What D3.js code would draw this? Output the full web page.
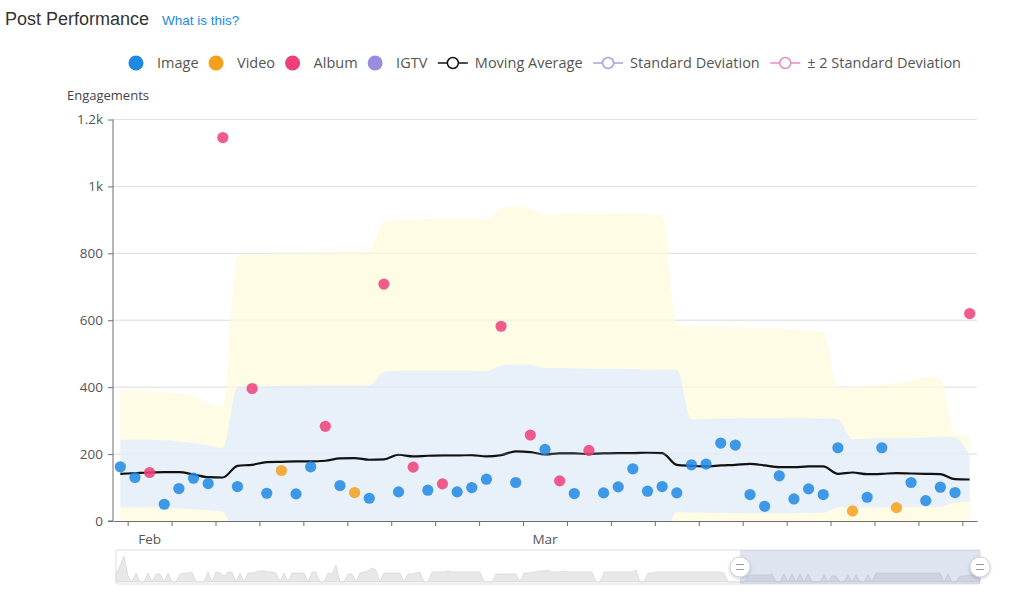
<!DOCTYPE html>
<html><head><meta charset="utf-8">
<script src="https://cdn.jsdelivr.net/npm/d3@7/dist/d3.min.js"></script>
<style>body{margin:0;background:#fff;}svg{display:block;}</style>
</head><body>
<svg id="chart" width="1024" height="615"></svg>
<script>
// ---------------- DATA ----------------
const postTypes = ["Image","Image","Album","Image","Image","Image","Image","Album","Image","Album",
  "Image","Video","Image","Image","Album","Image","Video","Image","Album","Image",
  "Album","Image","Album","Image","Image","Image","Album","Image","Album","Image",
  "Album","Image","Album","Image","Image","Image","Image","Image","Image","Image",
  "Image","Image","Image","Image","Image","Image","Image","Image","Image","Image",
  "Video","Image","Image","Video","Image","Image","Image","Image","Album"];
const engagements = [162,130,145,50,97,128,112,1146,103,396,
  83,151,81,162,283,106,85,68,708,87,
  161,92,111,87,100,125,582,115,257,214,
  120,82,211,84,102,156,89,103,84,168,
  170,233,227,79,44,135,66,96,79,219,
  30,71,219,40,115,61,101,85,620];
const movingAverage = [141,143,145,146,146,139,131,130,165,168,
  176,177,178,178,180,187,188,183,184,198,
  193,195,196,196,197,193,197,208,206,199,
  202,202,200,202,203,203,204,203,168,165,
  163,166,168,171,166,161,161,163,163,141,
  145,140,141,143,142,141,140,125,124];
const sdUpper = [243,243,243,241,238,233,226,218,401,402,
  403,404,404,405,405,405,405,405,445,448,
  449,449,449,449,449,448,465,468,467,457,
  457,456,456,455,455,454,453,452,452,303,
  305,306,307,308,308,308,307,307,306,305,
  245,246,248,248,248,250,252,250,195];
const sdLower = [40,40,40,39,37,35,32,28,-52,-50,
  -45,-45,-45,-45,-45,-40,-40,-40,-60,-55,
  -55,-55,-55,-55,-55,-55,-60,-55,-55,-50,
  -50,-50,-50,-50,-50,-50,-50,-50,27,26,
  25,25,24,24,24,24,24,25,25,40,
  40,41,42,42,42,42,42,55,58];
const sd2Upper = [390,390,388,385,380,372,350,340,795,797,
  798,800,800,802,803,804,805,808,895,900,
  900,902,902,903,903,900,935,940,935,915,
  917,918,918,918,918,917,917,915,585,583,
  582,580,578,577,576,575,572,568,565,400,
  402,405,408,412,420,428,425,258,255];
const sd2Lower = [-60,-60,-58,-56,-55,-55,-55,-60,-270,-265,
  -260,-260,-260,-260,-260,-250,-250,-250,-300,-300,
  -300,-300,-300,-300,-300,-300,-320,-320,-320,-300,
  -300,-300,-300,-300,-300,-300,-300,-300,-250,-250,
  -250,-250,-250,-250,-250,-250,-250,-250,-250,-160,
  -160,-160,-160,-160,-160,-160,-160,-10,-8];
const yTicks = [0,200,400,600,800,1000,1200];
const monthLabels = ["Feb","Mar"];
const monthLabelIndex = [2,29];
const sliderShadow = [8,16,26,6,0,9,0,0,9,0,
  8,8,0,9,0,0,8,9,9,10,
  0,0,0,10,0,10,9,6,10,10,
  0,9,0,9,9,10,11,11,10,10,
  9,0,9,0,9,9,9,9,0,10,
  10,0,0,9,8,17,0,0,8,8,
  0,9,10,11,14,12,0,9,9,9,
  9,9,0,8,8,9,10,0,0,10,
  10,10,10,11,10,10,10,10,10,10,
  10,10,0,0,0,8,8,8,8,8,
  8,0,9,9,10,10,11,11,12,10,
  10,10,11,10,10,10,10,10,10,10,
  0,0,10,10,10,10,10,10,10,10,
  12,0,0,9,9,10,10,10,10,10,
  10,10,10,10,10,10,10,10,10,10,
  10,10,9,0,0,0,0,0,6,7,
  7,7,7,7,8,0,0,8,0,8,
  0,8,0,8,0,0,0,7,0,6,
  6,0,0,7,0,7,0,0,7,0,
  9,9,9,9,9,9,9,9,9,9,
  9,9,9,9,9,9,9,0,8,0,
  0,6,6,7,7,7,7];
const sliderWindow = [156, 216];

const typeColors = {Image:"#1e88e5", Video:"#f5a01a", Album:"#ee3f78", IGTV:"#9a8de0"};
const legendItems = [
  {name:"Image", kind:"circle", color:typeColors.Image},
  {name:"Video", kind:"circle", color:typeColors.Video},
  {name:"Album", kind:"circle", color:typeColors.Album},
  {name:"IGTV", kind:"circle", color:typeColors.IGTV},
  {name:"Moving Average", kind:"line", color:"#111"},
  {name:"Standard Deviation", kind:"line", color:"#a99fe0"},
  {name:"± 2 Standard Deviation", kind:"line", color:"#e48cc6"}
];

// ---------------- CHART ----------------
const svg = d3.select("#chart");
const N = engagements.length;
const L = 113, R = 977, T = 119.5, B = 521;
const font = "'Open Sans', 'Noto Sans', sans-serif";

const x = d3.scaleBand().domain(d3.range(N)).range([L, R]);
const cx = i => x(i) + x.bandwidth()/2;
const xb = d3.scaleLinear().domain([0, N]).range([L, R]);
const y = d3.scaleLinear().domain([0, 1200]).range([B, T]);

// title
svg.append("text").attr("x",5).attr("y",25).text("Post Performance")
  .attr("font-family","'Liberation Sans', Arial, sans-serif").attr("font-size",18).attr("fill","#333");
svg.append("text").attr("x",162).attr("y",25).text("What is this?")
  .attr("font-family","'Liberation Sans', Arial, sans-serif").attr("font-size",13.5).attr("fill","#1e88e5");

// clip
svg.append("defs").append("clipPath").attr("id","plotClip")
  .append("rect").attr("x",L).attr("y",T).attr("width",R-L).attr("height",B-T);

// grid
svg.append("g").selectAll("line").data(yTicks.filter(d=>d>0)).join("line")
  .attr("x1",L).attr("x2",R).attr("y1",d=>y(d)).attr("y2",d=>y(d))
  .attr("stroke","#e2e2e2").attr("stroke-width",1);

const plot = svg.append("g").attr("clip-path","url(#plotClip)");
const idx = d3.range(N);
const area2 = d3.area().x(i=>cx(i)).y0(i=>y(sd2Lower[i])).y1(i=>y(sd2Upper[i])).curve(d3.curveMonotoneX);
const area1 = d3.area().x(i=>cx(i)).y0(i=>y(sdLower[i])).y1(i=>y(sdUpper[i])).curve(d3.curveMonotoneX);
plot.append("path").attr("d",area2(idx)).attr("fill","#fefce4");
plot.append("path").attr("d",area1(idx)).attr("fill","#e8f0f9");

// grid lines faintly visible over bands
svg.append("g").selectAll("line").data(yTicks.filter(d=>d>0)).join("line")
  .attr("x1",L).attr("x2",R).attr("y1",d=>y(d)).attr("y2",d=>y(d))
  .attr("stroke","#dcdcdc").attr("stroke-opacity",0.35).attr("stroke-width",1);

// moving average
plot.append("path").attr("d", d3.line().x(i=>cx(i)).y(i=>y(movingAverage[i])).curve(d3.curveMonotoneX)(idx))
  .attr("fill","none").attr("stroke","#111").attr("stroke-width",2.2);

// points
svg.append("g").selectAll("circle").data(idx).join("circle")
  .attr("cx",i=>cx(i)).attr("cy",i=>y(engagements[i])).attr("r",5.6)
  .attr("fill",i=>typeColors[postTypes[i]]).attr("fill-opacity",0.85);

// y axis
const yAxis = svg.append("g").attr("transform",`translate(${L},0)`)
  .call(d3.axisLeft(y).tickValues(yTicks).tickFormat(d3.format("~s")).tickSize(5).tickPadding(5));
yAxis.select(".domain").attr("stroke","#6e6e6e").attr("d",`M-5,${B}H0V${T}`);
yAxis.selectAll(".tick line").attr("stroke","#6e6e6e");
yAxis.selectAll(".tick text").attr("font-family",font).attr("font-size",13.5).attr("fill","#555");
svg.append("text").attr("x",67).attr("y",100).text("Engagements")
  .attr("font-family",font).attr("font-size",13).attr("fill","#444");

// x axis
const xAxis = svg.append("g").attr("transform",`translate(0,${B})`)
  .call(d3.axisBottom(xb).tickValues(d3.range(1, N, 3)).tickFormat("").tickSize(5).tickSizeOuter(0));
xAxis.select(".domain").attr("stroke","#6e6e6e");
xAxis.selectAll(".tick line").attr("stroke","#6e6e6e");
svg.append("g").selectAll("text").data(monthLabels).join("text")
  .attr("x",(d,k)=>cx(monthLabelIndex[k])).attr("y",544).attr("text-anchor","middle")
  .text(d=>d).attr("font-family",font).attr("font-size",13.5).attr("fill","#555");

// legend
const lg = svg.append("g");
const gap = 10.5;
let pos = 0;
legendItems.forEach(it => {
  const g = lg.append("g");
  let textX;
  if (it.kind === "circle") {
    g.append("circle").attr("cx",7).attr("cy",0).attr("r",7.5).attr("fill",it.color);
    textX = 28;
  } else {
    g.append("line").attr("x1",0).attr("x2",30).attr("y1",0).attr("y2",0).attr("stroke",it.color).attr("stroke-width",1.5);
    g.append("circle").attr("cx",15).attr("cy",0).attr("r",5.5).attr("fill","#fff").attr("stroke",it.color).attr("stroke-width",1.5);
    textX = 37;
  }
  const t = g.append("text").attr("x", textX).attr("y",5).text(it.name)
    .attr("font-family",font).attr("font-size",14.5).attr("fill","#555");
  const w = textX + t.node().getComputedTextLength();
  g.attr("transform",`translate(${pos},0)`);
  pos += w + gap;
});
const total = pos - gap;
lg.attr("transform",`translate(${(L+R)/2 - total/2},63)`);

// slider
const SL = 116, SR = 980, ST = 550, SB = 584;
const sx = d3.scaleLinear().domain([0, sliderShadow.length-1]).range([SL, SR]);
const sy = d3.scaleLinear().domain([0, 30]).range([SB-2, SB-32]);
svg.append("rect").attr("x",SL).attr("y",ST).attr("width",SR-SL).attr("height",SB-ST)
  .attr("fill","none").attr("stroke","#e0e0e0").attr("rx",2);
svg.append("path").attr("d", d3.area().x((d,i)=>sx(i)).y0(SB-2).y1(d=>sy(d))(sliderShadow))
  .attr("fill","#e8e8e8").attr("stroke","#d0d0d0").attr("stroke-width",0.6);
svg.append("rect").attr("x",sx(sliderWindow[0])).attr("y",ST).attr("width",sx(sliderWindow[1])-sx(sliderWindow[0])).attr("height",SB-ST)
  .attr("fill","rgb(135,163,206)").attr("fill-opacity",0.28);
const filt = svg.select("defs").append("filter").attr("id","hs").attr("x","-50%").attr("y","-50%").attr("width","200%").attr("height","200%");
filt.append("feDropShadow").attr("dx",0).attr("dy",1).attr("stdDeviation",1.8).attr("flood-color","#000").attr("flood-opacity",0.25);
sliderWindow.forEach(v => {
  const hx = sx(v), hy = (ST+SB)/2;
  svg.append("circle").attr("cx",hx).attr("cy",hy).attr("r",10).attr("fill","#fff").attr("stroke","#d5d5d5").attr("filter","url(#hs)");
  [-2.5, 2.5].forEach(o => svg.append("line").attr("x1",hx-4).attr("x2",hx+4).attr("y1",hy+o).attr("y2",hy+o).attr("stroke","#999").attr("stroke-width",1));
});
</script>
</body></html>
